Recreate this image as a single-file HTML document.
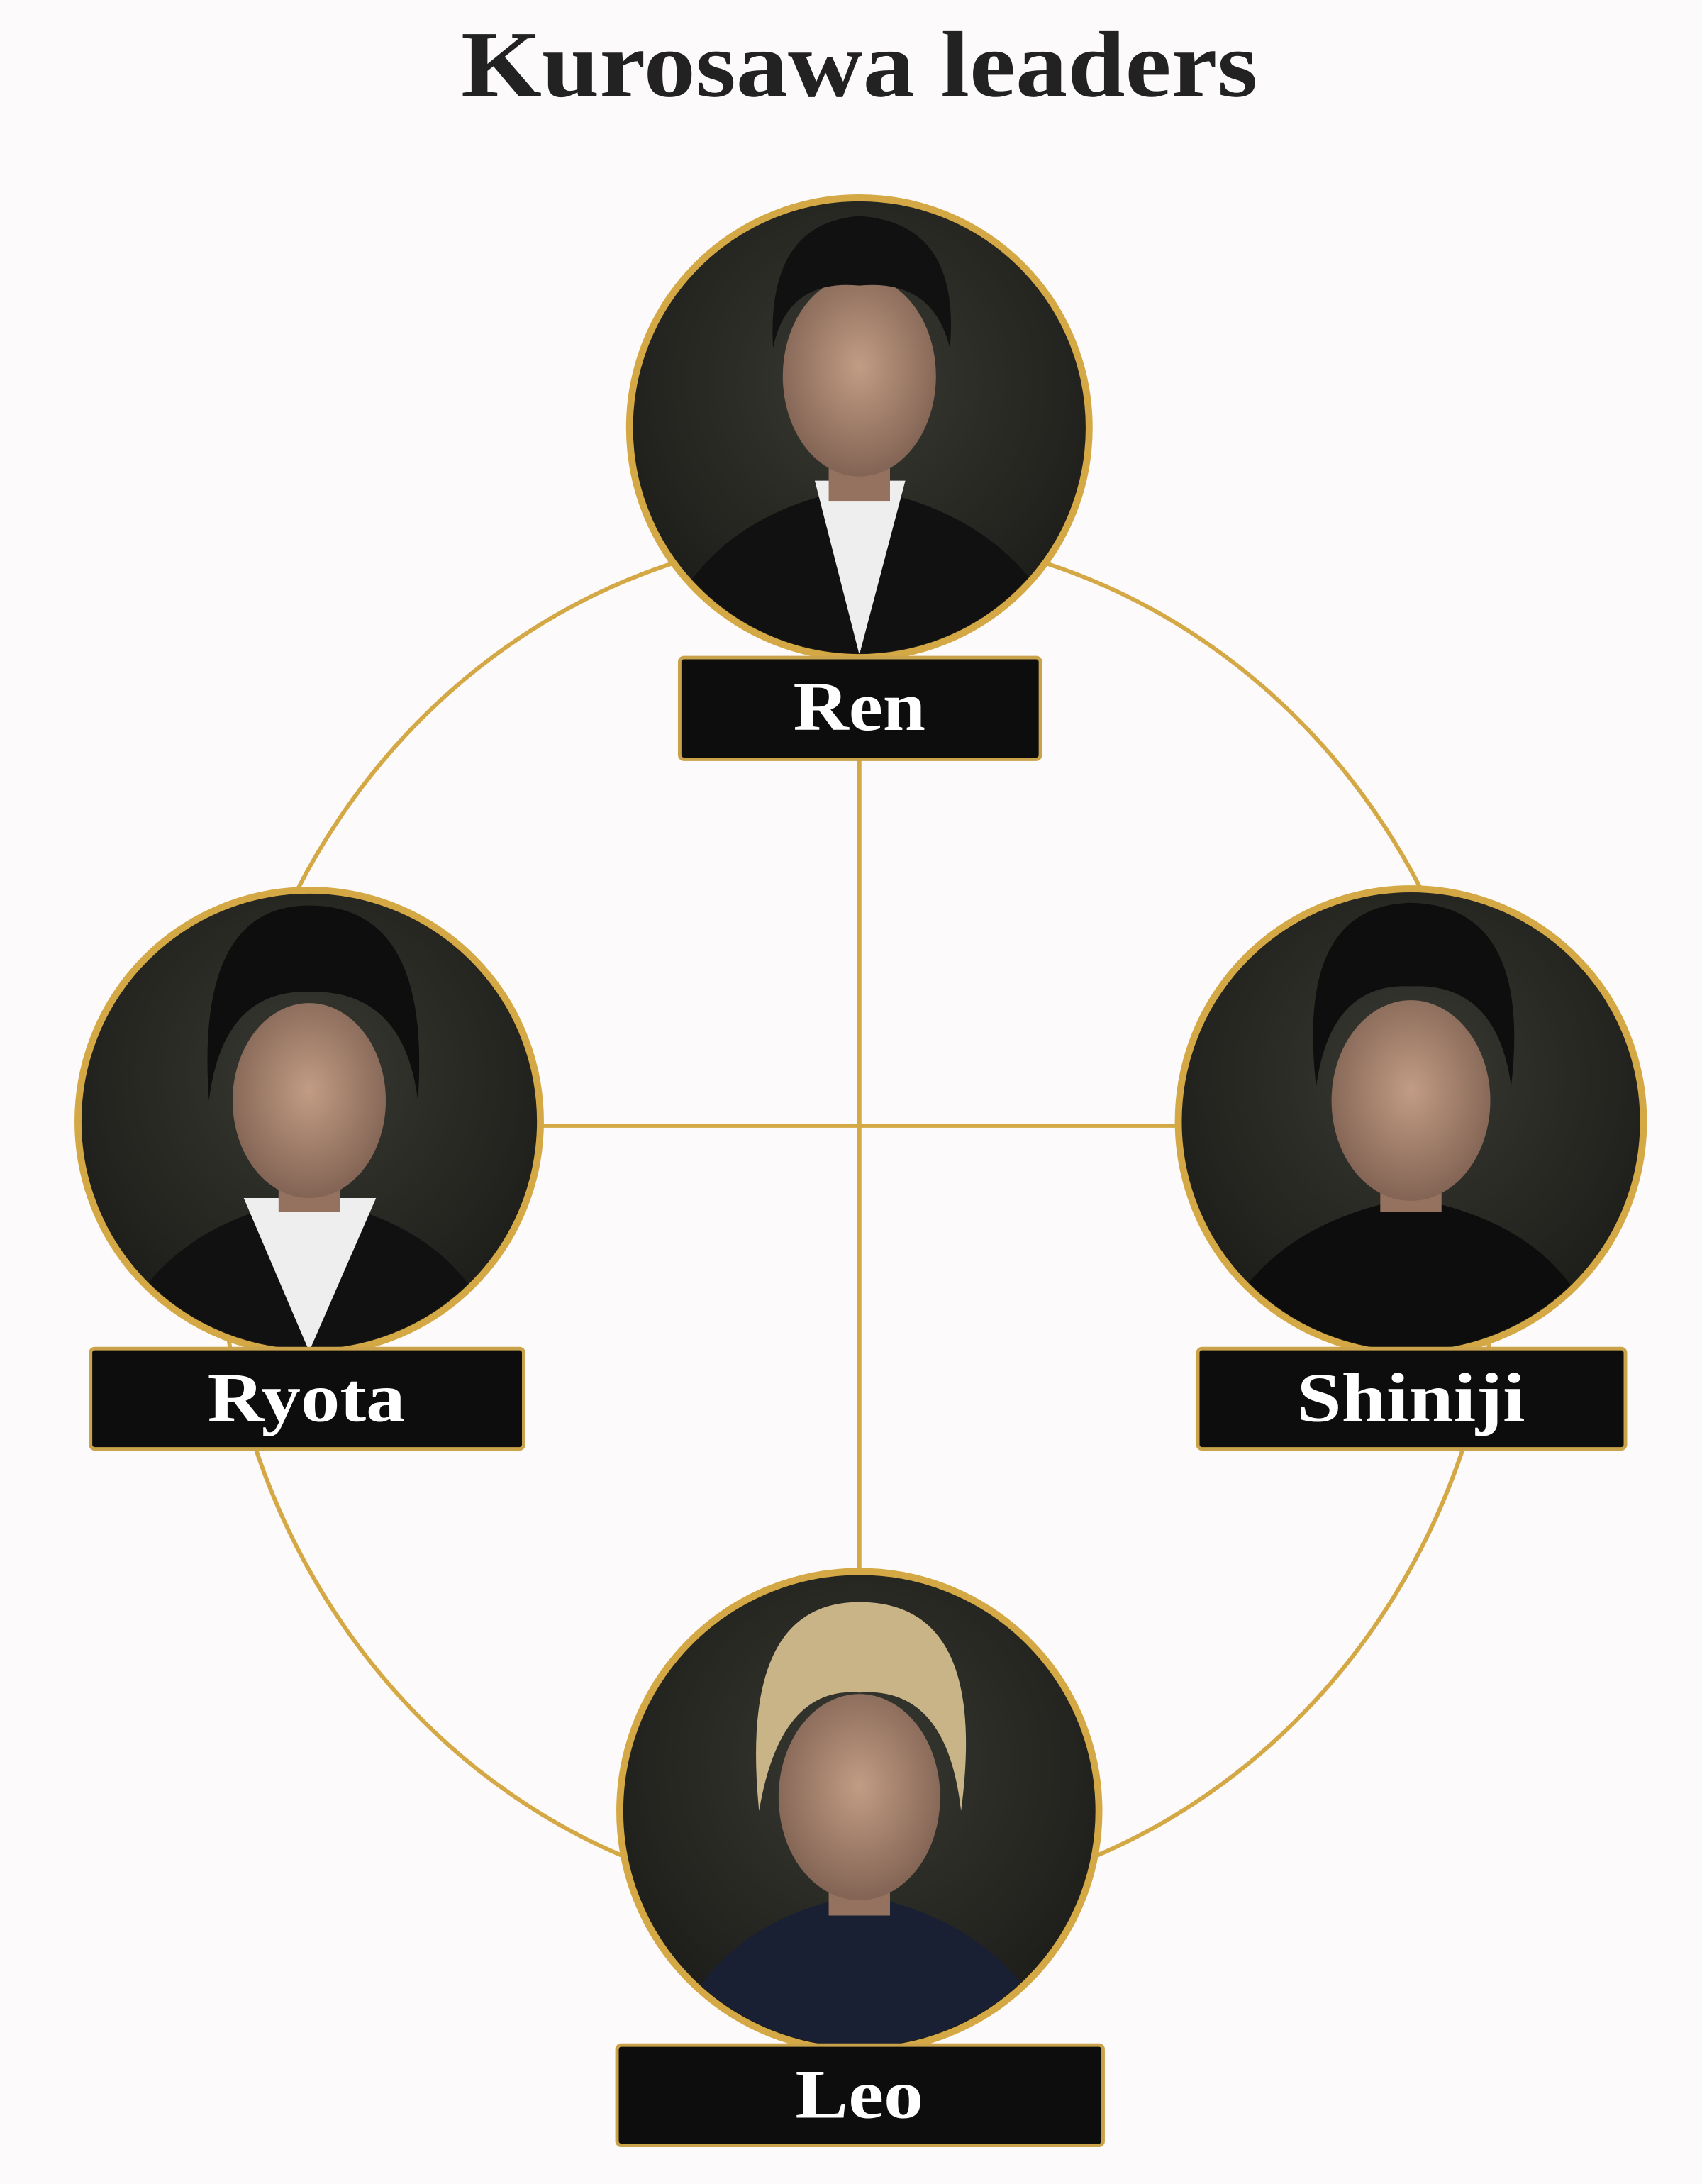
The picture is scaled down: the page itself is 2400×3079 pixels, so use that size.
<!DOCTYPE html>
<html><head><meta charset="utf-8"><style>
html,body{margin:0;padding:0;background:#fcfafa;}
svg{display:block;}
</style></head><body>
<svg width="2400" height="3079" viewBox="0 0 1222 1567.7" xmlns="http://www.w3.org/2000/svg">
<defs>
<radialGradient id="bg" cx="50%" cy="40%" r="60%">
<stop offset="0" stop-color="#3a3a33"/><stop offset="1" stop-color="#1c1c19"/>
</radialGradient>
<radialGradient id="skin" cx="50%" cy="45%" r="60%">
<stop offset="0" stop-color="#c29c84"/><stop offset="1" stop-color="#7d5f50"/>
</radialGradient>
</defs>
<rect width="1222" height="1568" fill="#fcfafa"/>
<text x="617" y="69" text-anchor="middle" font-family="Liberation Serif, serif" font-weight="bold" font-size="68" fill="#222" textLength="572" lengthAdjust="spacingAndGlyphs">Kurosawa leaders</text>
<g fill="none" stroke="#d4a845" stroke-width="3">
<ellipse cx="617" cy="875" rx="460" ry="492"/>
<line x1="617" y1="545" x2="617" y2="1130"/>
<line x1="389" y1="808" x2="845" y2="808"/>
</g>
<!-- Ren -->
<g>
<circle cx="617" cy="307" r="165" fill="url(#bg)" stroke="#d4a845" stroke-width="5"/>
<clipPath id="c1"><circle cx="617" cy="307" r="162"/></clipPath>
<g clip-path="url(#c1)">
<path d="M470 470 Q500 370 617 350 Q734 370 770 470Z" fill="#111"/>
<path d="M585 345 L617 470 L650 345Z" fill="#eee"/>
<rect x="595" y="290" width="44" height="70" fill="#94725f"/>
<ellipse cx="617" cy="270" rx="55" ry="72" fill="url(#skin)"/>
<path d="M555 250 Q550 160 617 155 Q690 160 682 250 Q670 200 617 205 Q565 200 555 250Z" fill="#111"/>
</g>
</g>
<!-- Ryota -->
<g>
<circle cx="222" cy="805" r="166" fill="url(#bg)" stroke="#d4a845" stroke-width="5"/>
<clipPath id="c2"><circle cx="222" cy="805" r="163"/></clipPath>
<g clip-path="url(#c2)">
<path d="M80 970 Q110 880 222 860 Q334 880 360 970Z" fill="#111"/>
<path d="M175 860 L222 970 L270 860Z" fill="#eee"/>
<rect x="200" y="800" width="44" height="70" fill="#94725f"/>
<ellipse cx="222" cy="790" rx="55" ry="70" fill="url(#skin)"/>
<path d="M150 790 Q140 650 222 650 Q310 650 300 790 Q290 710 222 712 Q160 710 150 790Z" fill="#0e0e0e"/>
</g>
</g>
<!-- Shiniji -->
<g>
<circle cx="1013" cy="805" r="167" fill="url(#bg)" stroke="#d4a845" stroke-width="5"/>
<clipPath id="c3"><circle cx="1013" cy="805" r="164"/></clipPath>
<g clip-path="url(#c3)">
<path d="M870 970 Q900 880 1013 860 Q1126 880 1150 970Z" fill="#0d0d0d"/>
<rect x="991" y="800" width="44" height="70" fill="#94725f"/>
<ellipse cx="1013" cy="790" rx="57" ry="72" fill="url(#skin)"/>
<path d="M945 780 Q930 650 1013 648 Q1100 650 1085 780 Q1075 705 1013 708 Q955 705 945 780Z" fill="#0e0e0e"/>
</g>
</g>
<!-- Leo -->
<g>
<circle cx="617" cy="1300" r="172" fill="url(#bg)" stroke="#d4a845" stroke-width="5"/>
<clipPath id="c4"><circle cx="617" cy="1300" r="169"/></clipPath>
<g clip-path="url(#c4)">
<path d="M480 1470 Q510 1380 617 1360 Q724 1380 760 1470Z" fill="#1a2033"/>
<rect x="595" y="1300" width="44" height="75" fill="#94725f"/>
<ellipse cx="617" cy="1290" rx="58" ry="74" fill="url(#skin)"/>
<path d="M545 1300 Q530 1150 617 1150 Q710 1150 690 1300 Q680 1210 617 1215 Q560 1210 545 1300Z" fill="#c9b488"/>
</g>
</g>
<!-- labels -->
<g fill="#0d0d0d" stroke="#c9a24a" stroke-width="2.5">
<rect x="488" y="472" width="259" height="73" rx="3"/>
<rect x="65" y="968" width="311" height="72" rx="3"/>
<rect x="860" y="968" width="307" height="72" rx="3"/>
<rect x="443" y="1468" width="349" height="72" rx="3"/>
</g>
<g fill="#fff" font-family="Liberation Serif, serif" font-weight="bold" font-size="50" text-anchor="middle">
<text x="617" y="524" textLength="95" lengthAdjust="spacingAndGlyphs">Ren</text>
<text x="220" y="1020" textLength="142" lengthAdjust="spacingAndGlyphs">Ryota</text>
<text x="1013" y="1020" textLength="164" lengthAdjust="spacingAndGlyphs">Shiniji</text>
<text x="617" y="1520" textLength="92" lengthAdjust="spacingAndGlyphs">Leo</text>
</g>
</svg>
</body></html>
